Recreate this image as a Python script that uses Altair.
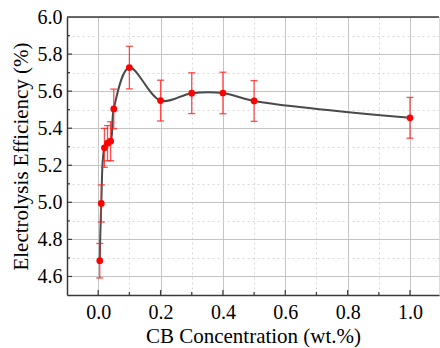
import altair as alt
import pandas as pd

# Data
conc = [0.005, 0.01, 0.02, 0.03, 0.04, 0.05, 0.1, 0.2, 0.3, 0.4, 0.5, 1.0]
eff = [4.685, 4.994, 5.294, 5.319, 5.330, 5.504, 5.727, 5.549, 5.589, 5.590, 5.547, 5.456]
err = [0.093, 0.100, 0.105, 0.095, 0.105, 0.107, 0.115, 0.110, 0.110, 0.112, 0.110, 0.110]

x_ticks = [0.0, 0.1, 0.2, 0.3, 0.4, 0.5, 0.6, 0.7, 0.8, 0.9, 1.0]
x_major = [0.0, 0.2, 0.4, 0.6, 0.8, 1.0]
x_minor = [0.1, 0.3, 0.5, 0.7, 0.9]
y_ticks = [4.5, 4.6, 4.7, 4.8, 4.9, 5.0, 5.1, 5.2, 5.3, 5.4, 5.5, 5.6, 5.7, 5.8, 5.9, 6.0]
y_major = [4.6, 4.8, 5.0, 5.2, 5.4, 5.6, 5.8]
y_minor = [4.7, 4.9, 5.1, 5.3, 5.5, 5.7, 5.9]

X_DOMAIN = [-0.1, 1.093]
Y_DOMAIN = [4.5, 6.0]
W, H = 372, 278
FONT = "'Liberation Serif', 'DejaVu Serif', serif"

df = pd.DataFrame({"x": conc, "y": eff, "err": err})
df["lo"] = df["y"] - df["err"]
df["hi"] = df["y"] + df["err"]

is_major = "round(datum.value*10) % 2 == 0"

xscale = alt.Scale(domain=X_DOMAIN, nice=False, zero=False)
yscale = alt.Scale(domain=Y_DOMAIN, nice=False, zero=False)

xaxis = alt.Axis(
    values=x_ticks, title="CB Concentration (wt.%)",
    labelExpr=f"{is_major} ? format(datum.value, '.1f') : ''",
    ticks=False, grid=True,
    gridColor={"condition": {"test": is_major, "value": "#c4c4c4"}, "value": "#d8d8d8"},
    gridDash={"condition": {"test": is_major, "value": []}, "value": [2, 3]},
    gridWidth=1,
    domainColor="#3a3a3a", domainWidth=1.5,
    labelFont=FONT, labelFontSize=20, labelColor="black", labelPadding=7,
    titleFont=FONT, titleFontSize=21, titleFontWeight="normal", titleColor="black",
    titlePadding=3,
)
yaxis = alt.Axis(
    values=y_ticks, title="Electrolysis Efficiency (%)",
    labelExpr=f"{is_major} ? format(datum.value, '.1f') : ''",
    ticks=False, grid=True,
    gridColor={"condition": {"test": is_major, "value": "#c4c4c4"}, "value": "#d8d8d8"},
    gridDash={"condition": {"test": is_major, "value": []}, "value": [2, 3]},
    gridWidth=1,
    domainColor="#3a3a3a", domainWidth=1.5,
    labelFont=FONT, labelFontSize=20, labelColor="black", labelPadding=5,
    titleFont=FONT, titleFontSize=21, titleFontWeight="normal", titleColor="black",
    titlePadding=6,
)


def X(field):
    return alt.X(field, type="quantitative", scale=xscale, axis=xaxis, title="CB Concentration (wt.%)")


def Y(field):
    return alt.Y(field, type="quantitative", scale=yscale, axis=yaxis, title="Electrolysis Efficiency (%)")


base = alt.Chart(df)

line = base.mark_line(color="#4a4a4a", strokeWidth=2, interpolate="catmull-rom").encode(
    x=X("x"), y=Y("y"),
)

red = "#ff2020"
bars = base.mark_rule(color=red, strokeWidth=1.3, opacity=0.8).encode(
    x=X("x"), y=Y("lo"), y2="hi:Q"
)
cap_lo = base.mark_tick(color=red, size=7, thickness=1.3, orient="horizontal", opacity=0.8).encode(
    x=X("x"), y=Y("lo")
)
cap_hi = base.mark_tick(color=red, size=7, thickness=1.3, orient="horizontal", opacity=0.8).encode(
    x=X("x"), y=Y("hi")
)
pts = base.mark_circle(color="#ff0000", size=45, opacity=1).encode(
    x=X("x"), y=Y("y")
)

tick_color = "#3a3a3a"
xmaj = alt.Chart(pd.DataFrame({"v": x_major})).mark_rule(color=tick_color, strokeWidth=1.2).encode(
    x=X("v"), y=alt.value(H), y2=alt.value(H - 5))
xmin = alt.Chart(pd.DataFrame({"v": x_minor})).mark_rule(color=tick_color, strokeWidth=1.2).encode(
    x=X("v"), y=alt.value(H), y2=alt.value(H - 3))
ymaj = alt.Chart(pd.DataFrame({"v": y_major})).mark_rule(color=tick_color, strokeWidth=1.2).encode(
    y=Y("v"), x=alt.value(0), x2=alt.value(5))
ymin = alt.Chart(pd.DataFrame({"v": y_minor})).mark_rule(color=tick_color, strokeWidth=1.2).encode(
    y=Y("v"), x=alt.value(0), x2=alt.value(3))
top = alt.Chart(pd.DataFrame({"v": [0]})).mark_rule(color="#3a3a3a", strokeWidth=1.5).encode(
    y=alt.value(0), x=alt.value(0), x2=alt.value(W))

chart = alt.layer(xmaj, xmin, ymaj, ymin, top, line, bars, cap_lo, cap_hi, pts).properties(
    width=W, height=H,
    autosize=alt.AutoSizeParams(type="none"),
    padding={"left": 67, "top": 17, "right": 1, "bottom": 53},
).configure_view(stroke=None).configure(background="white", font=FONT)

chart.save("out.html", embed_options={"renderer": "svg", "actions": False})
